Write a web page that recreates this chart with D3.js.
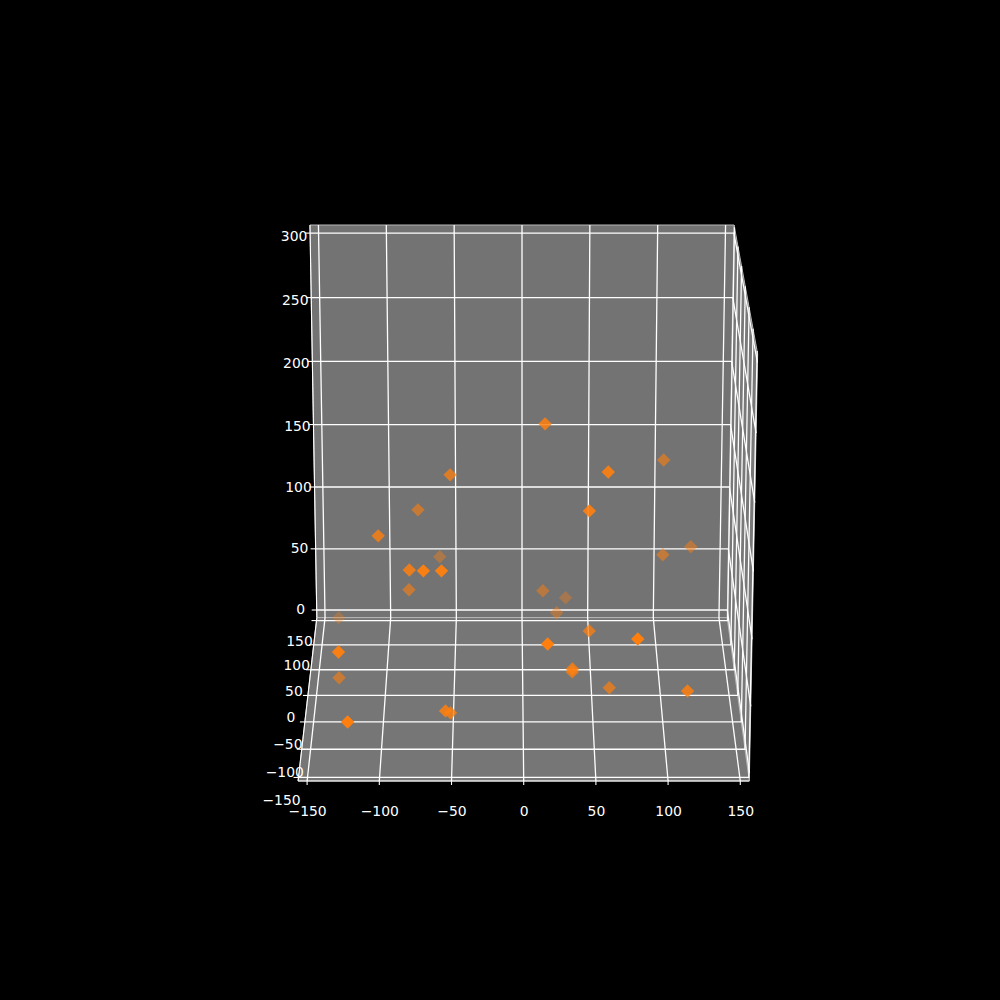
<!DOCTYPE html>
<html>
<head>
<meta charset="utf-8">
<script src="https://d3js.org/d3.v7.min.js"></script>
<style>
  html, body { margin: 0; padding: 0; background: #000; }
  svg { display: block; }
  text { font-family: "DejaVu Sans", sans-serif; font-size: 13.9px; fill: #fff; }
</style>
</head>
<body>
<svg id="chart"></svg>
<script>
// data
var xs = [15.8, -52.1, 60.3, 102.7, -76.1, 46.9, -103.3, -61.2, 102.5, 123.5, -80.8, -70.2, -57.5, -82.7, 14.9,
          32.2, 25.3, -137.2, 47.5, 17, 80.1, -130, -133.6, 35.2, 35.3, 62.2, 116.7, -55.2, -51.9, -123.1];
var ys = [-0.7, 13.6, -26.1, 58.9, 46.6, -35.4, -14.3, 89.4, 49.2, 64.8, -36, -63.4, -63.4, 26.9, 53.8,
          92.6, 69.9, 101.1, -23.8, -94.4, -93.2, -82.8, 5.2, -46.5, -33.7, -24.2, -65.1, -70, -57.1, -112.9];
var zs = [203.8, 160.1, 176.3, 155.7, 121.3, 150.2, 123.5, 68.6, 85.2, 85.7, 105.5, 115.2, 115.2, 66.2, 55.1,
          34.6, 31.4, 15.2, 53.9, 71.9, 75.2, 61.2, 5.6, 33.5, 26, 9.7, 24.1, 10.7, 3.8, 20.1];

var xyTicks = [-150, -100, -50, 0, 50, 100, 150];
var zTicks = [0, 50, 100, 150, 200, 250, 300];

var size = 1000;
var svg = d3.select("#chart").attr("width", size).attr("height", size);

// box limits, the tick range plus the 1/48 margin on each side
var xyLim = [-156.25, 156.25];
var zLim = [-6.25, 306.25];

var xscale = d3.scaleLinear().domain(xyLim).range([-1, 1]);
var yscale = d3.scaleLinear().domain(xyLim).range([-1, 1]);
var zscale = d3.scaleLinear().domain(zLim).range([-1, 1]);

// camera looking along +y, raised above the floor
var elev = 19.7 * Math.PI / 180;
var sinE = Math.sin(elev), cosE = Math.cos(elev);
var dist = 19.5;
var screenX = d3.scaleLinear().domain([-1, 1]).range([-4263, 4263]);
var screenY = d3.scaleLinear().domain([-1, 1]).range([494.4 + 4236, 494.4 - 4236]);
// the box is not quite head on, back edges sit a little left of the front ones
var centerX = d3.scaleLinear().domain([-1, 1]).range([523.7, 522]);

function depth(x, y, z) {
    return dist + yscale(y) * cosE - zscale(z) * sinE;
}

function project(x, y, z) {
    var w = depth(x, y, z);
    var v = (yscale(y) * sinE + zscale(z) * cosE) / w;
    return [centerX(yscale(y)) + screenX(xscale(x) / w), screenY(v)];
}

var line = d3.line()
    .x(function (p) { return project(p[0], p[1], p[2])[0]; })
    .y(function (p) { return project(p[0], p[1], p[2])[1]; });

var x0 = xyLim[0], x1 = xyLim[1], z0 = zLim[0], z1 = zLim[1];

//panes
var panes = [
    { fill: "#797979", pts: [[x1, x0, z0], [x1, x1, z0], [x1, x1, z1], [x1, x0, z1]] },
    { fill: "#737373", pts: [[x0, x1, z0], [x1, x1, z0], [x1, x1, z1], [x0, x1, z1]] },
    { fill: "#767676", pts: [[x0, x0, z0], [x1, x0, z0], [x1, x1, z0], [x0, x1, z0]] }
];
panes.forEach(function (p) {
    svg.append("path")
        .attr("d", line(p.pts) + "Z")
        .attr("fill", p.fill)
        .attr("stroke", "#b8b8b8")
        .attr("stroke-width", 1);
});

//grid lines
var grid = [];
xyTicks.forEach(function (t) {
    grid.push([[t, x0, z0], [t, x1, z0], [t, x1, z1]]);
    grid.push([[x0, t, z0], [x1, t, z0], [x1, t, z1]]);
});
zTicks.forEach(function (t) {
    grid.push([[x0, x1, t], [x1, x1, t], [x1, x0, t]]);
});
svg.selectAll(".grid")
    .data(grid)
    .enter()
    .append("path")
    .attr("class", "grid")
    .attr("d", line)
    .attr("fill", "none")
    .attr("stroke", "#fff")
    .attr("stroke-width", 1.3);

//axis lines
var axes = [
    [[x0, x0, z0], [x1, x0, z0]],
    [[x0, x0, z0], [x0, x1, z0]],
    [[x0, x1, z0], [x0, x1, z1]]
];
axes.forEach(function (a) {
    svg.append("path")
        .attr("d", line(a))
        .attr("fill", "none")
        .attr("stroke", "#fff")
        .attr("stroke-width", 1.1);
});

//tick marks and labels
function tick(p, out, off, label) {
    var s = project(p[0], p[1], p[2]);
    svg.append("line")
        .attr("x1", s[0])
        .attr("y1", s[1])
        .attr("x2", s[0] + out[0])
        .attr("y2", s[1] + out[1])
        .attr("stroke", "#fff")
        .attr("stroke-width", 1.1);
    svg.append("text")
        .text(d3.format("d")(label).replace("-", "\u2212"))
        .attr("x", s[0] + off[0])
        .attr("y", s[1] + off[1] + 5)
        .attr("text-anchor", "middle");
}
// label offsets drift a little along the y and z axes
var yLabelDy = d3.scaleLinear().domain([-150, 150]).range([23, 20]);
var zLabelDy = d3.scaleLinear().domain([0, 300]).range([-1, 3]);

xyTicks.forEach(function (t) {
    tick([t, x0, z0], [0, 4], [0.5, 30], t);
    tick([x0, t, z0], [-5, 0], [-17, yLabelDy(t)], t);
});
zTicks.forEach(function (t) {
    tick([x0, x1, t], [-5, 0], [-16, zLabelDy(t)], t);
});

//points, nearest drawn last and the far ones fading out
var points = xs.map(function (x, i) {
    return { x: x, y: ys[i], z: zs[i], w: depth(x, ys[i], zs[i]) };
});
points.sort(function (a, b) { return b.w - a.w; });

var alpha = d3.scaleLinear()
    .domain(d3.extent(points, function (d) { return d.w; }))
    .range([1, 0.3]);

svg.selectAll(".point")
    .data(points)
    .enter()
    .append("path")
    .attr("class", "point")
    .attr("d", d3.symbol().type(d3.symbolSquare).size(90))
    .attr("transform", function (d) {
        var s = project(d.x, d.y, d.z);
        return "translate(" + s[0] + "," + s[1] + ") rotate(45)";
    })
    .attr("fill", "#ff7f0e")
    .attr("fill-opacity", function (d) { return alpha(d.w); });
</script>
</body>
</html>
